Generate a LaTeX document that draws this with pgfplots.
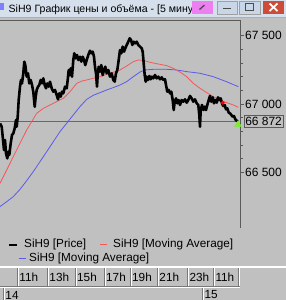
\documentclass[border=0pt]{standalone}
\usepackage{pgfplots}
\pgfplotsset{compat=1.18}
\usepackage{fontspec}
\setmainfont{Liberation Sans}
\definecolor{winbg}{RGB}{192,192,192}
\definecolor{titlebg}{RGB}{214,224,236}
\definecolor{axgray}{RGB}{90,90,90}
\definecolor{mared}{RGB}{240,90,90}
\definecolor{mablue}{RGB}{90,90,235}
\definecolor{hlred}{RGB}{255,40,40}
\definecolor{tgreen}{RGB}{120,240,40}
\definecolor{btnmag}{RGB}{236,128,240}
\definecolor{btnblue}{RGB}{200,214,232}
\definecolor{btnred}{RGB}{205,75,55}
\definecolor{sepgray}{RGB}{120,120,120}

\pgfplotstableread{
x y
0 66858
1.7 66834
2.7 66761
4 66663
5 66737
6 66639
7.3 66602
8.3 66651
9.3 66627
10.7 66712
12 66773
13.3 66785
14.7 66822
16 66883
16.7 66834
17.7 66907
18.7 67029
20 67127
21 67176
22 67151
23.3 67224
24.3 67310
25.3 67285
26.7 67200
28 67224
29.3 67151
30.7 67176
32 67139
33.3 67090
34.7 66980
35.7 67054
36.7 67103
38 67127
39.3 67139
40.7 67176
42 67151
43.3 67188
44.7 67139
46 67115
47.3 67151
48.7 67127
50 67163
51.7 67115
53.3 67090
55 67103
56.7 67066
58 67034
59.3 67078
60.7 67054
62 67090
63.3 67078
65 67127
66.7 67115
67.7 67176
68.7 67249
69.7 67212
70.7 67261
72 67200
73.3 67322
74.3 67371
75.7 67334
77 67359
78.3 67322
80 67346
81.3 67310
82.7 67346
84 67322
85.3 67285
86.7 67322
88.3 67359
90 67390
91.3 67371
92.7 67383
94 67346
95 67273
96 67225
97 67127
97.7 67212
98.7 67273
100 67237
101.3 67285
102.7 67212
104 67249
105.3 67273
106.7 67225
108.3 67249
110 67200
111.7 67224
113.3 67176
114.7 67164
116 67225
117.3 67249
118.7 67322
120 67395
121.3 67371
122.7 67420
124 67383
125.3 67408
126.7 67432
128.3 67456
129.7 67481
131 67469
132.3 67432
133.7 67456
135 67444
136.7 67456
138.3 67432
140 67420
141.7 67408
142.7 67383
143.7 67298
144.7 67212
145.7 67163
146.7 67200
148 67176
149.3 67205
150.7 67181
152 67200
153.3 67188
155 67212
156.7 67188
158.3 67200
160 67181
161.7 67195
163.3 67176
165 67181
166 67139
167.3 67090
168.7 67103
170 67078
171.3 67090
172.7 67029
173.7 66956
174.7 67017
176 67041
177.3 67005
178.7 67029
180 66993
181.7 67029
183.3 67017
185 67034
186.7 67010
188.3 67029
190 67059
191.7 67041
193.3 67017
195 67034
196.7 67005
198.3 66993
199.3 66920
200 66834
200.7 66956
202 66993
203.3 66956
204.7 66981
206 66956
207.3 66993
208.7 67029
210 67059
211.3 67017
212.7 67049
214 67005
215.3 67029
216.7 67010
218 67049
219.3 67029
220.7 67041
222 67005
223.3 66985
224.7 66993
226 66961
227.3 66968
228.7 66937
230 66932
231.3 66920
232.7 66907
234 66912
235.3 66888
236.7 66878
238 66872
}\price

\pgfplotstableread{
x y
0 66419
6.7 66517
13.3 66614
20 66712
26.7 66810
31.7 66871
36.7 66932
43.3 66968
50 66993
56.7 67017
63.3 67041
70 67090
76.7 67151
81.7 67168
86.7 67176
93.3 67188
100 67200
106.7 67217
113.3 67232
120 67249
126.7 67278
133.3 67310
138.3 67322
143.3 67320
150 67305
156.7 67295
166.7 67281
173.3 67261
180 67234
186.7 67200
193.3 67151
200 67115
206.7 67083
213.3 67054
220 67029
226.7 67010
233.3 66993
238.3 66976
}\mafast

\pgfplotstableread{
x y
0 66249
6.7 66285
13.3 66322
20 66375
26.7 66439
33.3 66505
40 66578
46.7 66651
53.3 66724
60 66798
66.7 66859
73.3 66920
80 66981
86.7 67034
93.3 67064
100 67083
106.7 67103
113.3 67120
120 67139
126.7 67164
133.3 67200
140 67234
145 67249
153.3 67254
166.7 67254
176.7 67249
186.7 67237
200 67225
213.3 67200
226.7 67163
238.3 67127
}\maslow

\begin{document}
\begin{tikzpicture}[x=1bp,y=1bp]
\useasboundingbox (0,0) rectangle (286,-300);
\fill[winbg] (0,0) rectangle (286,-300);
% title bar
\fill[titlebg] (0,0) rectangle (286,-17);
\draw[sepgray!60] (0,-17.5) -- (286,-17.5);
\fill[blue!50!white] (0,-3) rectangle (4,-10);
\begin{scope}
\clip (0,0) rectangle (191,-17);
\node[anchor=base west, inner sep=0pt, font=\fontsize{10.6}{12}\selectfont] at (8.5,-12) {SiH9 График цены и объёма - [5 минут]};
\end{scope}
\fill[btnmag] (191.7,-1) rectangle (212.7,-14);
\draw[line width=1.3bp, black!70] (199.5,-9.5) -- (204.5,-5);
\fill[btnblue] (217,-1) rectangle (237,-14);
\draw[sepgray!70] (217,-1) rectangle (237,-14);
\draw[line width=1.5bp, black!70] (223,-8.5) -- (231,-8.5);
\fill[btnblue] (239,-1) rectangle (260,-14);
\draw[sepgray!70] (239,-1) rectangle (260,-14);
\draw[line width=1bp, black!70] (245.5,-3.5) rectangle (253.5,-10.5);
\fill[btnred] (263,-1) rectangle (284,-14);
\draw[line width=1.8bp, white] (269.5,-3.5) -- (277.5,-11) (269.5,-11) -- (277.5,-3.5);

\begin{axis}[
  at={(0bp,-20bp)}, anchor=north west,
  scale only axis, width=240bp, height=208bp,
  xmin=0, xmax=240, ymin=66092.3, ymax=67614.9,
  axis x line=none, axis y line*=right,
  xtick=\empty,
  scaled y ticks=false,
  ytick={66500,67000,67500},
  yticklabels={66 500,67 000,67 500},
  minor y tick num=4,
  tick align=outside,
  major tick length=4bp, minor tick length=3bp,
  every tick/.style={axgray, line width=0.7bp},
  axis line style={axgray, line width=0.8bp},
  yticklabel style={font=\fontsize{12}{14}\selectfont, inner sep=1bp},
  clip=false,
]
\addplot[draw=hlred, line width=1bp, mark=none] coordinates {(0,66872) (238,66872)};
\addplot[draw=mablue, line width=0.8bp, mark=none] table[x=x,y=y] {\maslow};
\addplot[draw=mared, line width=0.8bp, mark=none] table[x=x,y=y] {\mafast};
\addplot[draw=black, line width=2.6bp, line join=round, mark=none] table[x=x,y=y] {\price};
\addplot[only marks, mark=*, mark size=1.8bp, color=red] coordinates {(222.7,67010)};
\addplot[only marks, mark=triangle*, mark size=3.8bp, color=tgreen] coordinates {(238,66850)};
\end{axis}
\draw[axgray, line width=0.8bp] (0,-20) -- (240,-20);

% current price box
\node[draw=axgray, fill=winbg, line width=0.7bp, inner xsep=1.5bp, inner ysep=1.5bp, anchor=west, font=\fontsize{12}{14}\selectfont] at (243.5,-121.5) {66 872};

% legend
\draw[black, line width=1.6bp] (9.3,-244.7) -- (16.7,-244.7);
\node[anchor=west, inner sep=0pt, font=\fontsize{11.8}{13}\selectfont] at (24,-244.7) {SiH9 [Price]};
\draw[mared, line width=1bp] (100,-244.7) -- (107,-244.7);
\node[anchor=west, inner sep=0pt, font=\fontsize{11.8}{13}\selectfont] at (113,-244.7) {SiH9 [Moving Average]};
\draw[mablue, line width=1bp] (19.3,-258.5) -- (26,-258.5);
\node[anchor=west, inner sep=0pt, font=\fontsize{11.8}{13}\selectfont] at (29,-258.5) {SiH9 [Moving Average]};

% time axis
\draw[white, line width=1.3bp] (0,-267) -- (286,-267);
\draw[sepgray, line width=0.8bp] (0,-286) -- (240,-286);
\draw[white, line width=0.6bp] (0,-287) -- (240,-287);
\foreach \sx in {17.3,47.3,75,104,130,157.3,187.3,213.3,238.3} {
  \draw[sepgray, line width=0.8bp] (\sx,-268) -- (\sx,-286);
  \draw[white, line width=0.6bp] (\sx+1,-268) -- (\sx+1,-286);
}
\foreach \sx/\lab in {17.3/11h,47.3/13h,75/15h,104/17h,130/19h,157.3/21h,187.3/23h,213.3/11h} {
  \node[anchor=west, inner sep=0pt, font=\fontsize{11.8}{13}\selectfont] at (\sx+2,-277.5) {\lab};
}
\foreach \sx/\lab in {3.3/14,202.3/15} {
  \draw[sepgray, line width=0.8bp] (\sx,-288) -- (\sx,-300);
  \draw[white, line width=0.6bp] (\sx+1,-288) -- (\sx+1,-300);
  \node[anchor=west, inner sep=0pt, font=\fontsize{11.8}{13}\selectfont] at (\sx+2,-295) {\lab};
}
\end{tikzpicture}
\end{document}
